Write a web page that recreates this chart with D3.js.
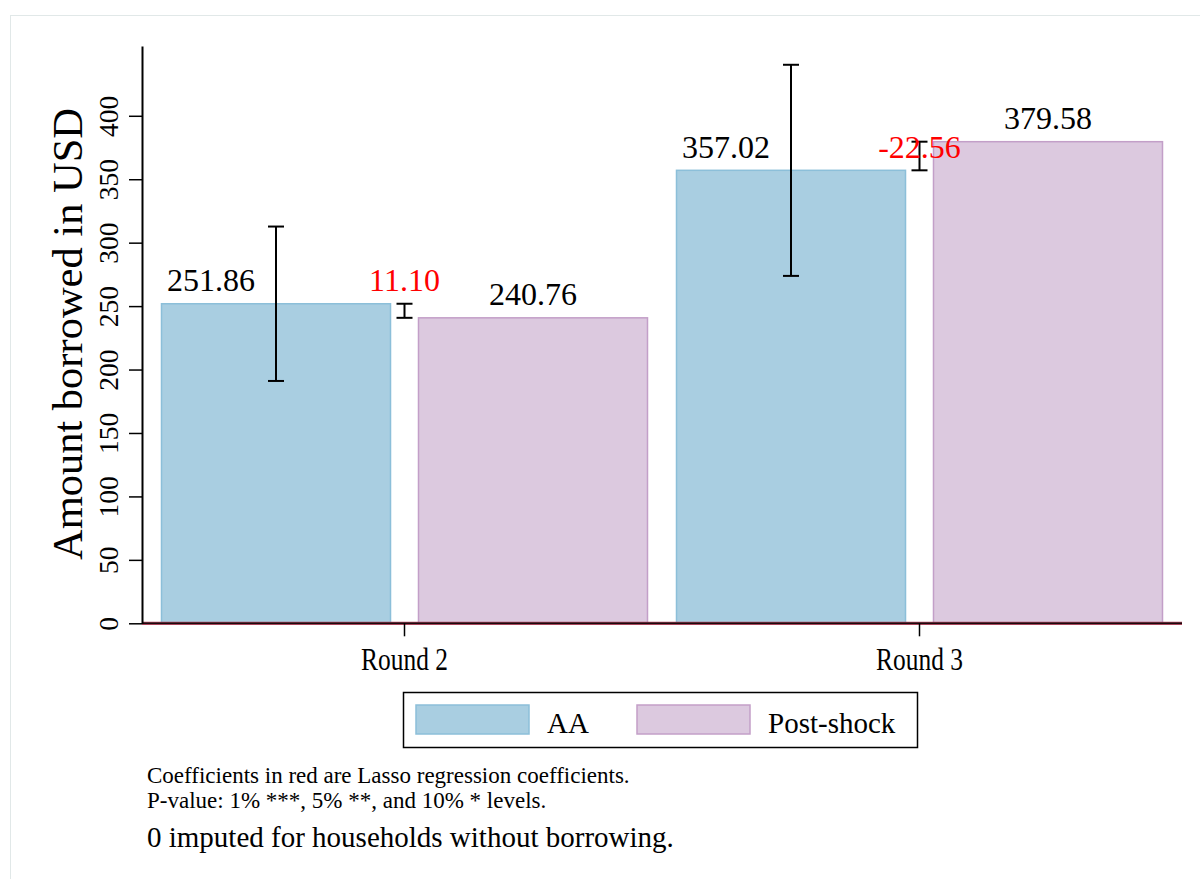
<!DOCTYPE html>
<html>
<head>
<meta charset="utf-8">
<script src="https://cdn.jsdelivr.net/npm/d3@7"></script>
<style>
  html, body { margin: 0; padding: 0; background: #ffffff; }
  svg { display: block; font-family: "Liberation Serif", "Times New Roman", serif; }
</style>
</head>
<body>
<svg id="chart" width="1200" height="879"></svg>
<script>
// Rounds shown on the x axis
const rounds = ["Round 2", "Round 3"];
// Series (legend order)
const seriesNames = ["AA", "Post-shock"];
// Mean amount borrowed (USD)
const aaValues = [251.86, 357.02];
const postValues = [240.76, 379.58];
// 95% CI for AA means
const aaLow = [191.0, 273.8];
const aaHigh = [312.7, 440.2];
// Lasso coefficients (difference AA - Post-shock)
const coefLabels = ["11.10", "-22.56"];
// Y axis ticks
const yTicks = [0, 50, 100, 150, 200, 250, 300, 350, 400];
// Notes below the chart
const noteSmall = ["Coefficients in red are Lasso regression coefficients.",
                   "P-value: 1% ***, 5% **, and 10% * levels."];
const noteLarge = "0 imputed for households without borrowing.";

const colors = {
  "AA": { fill: "#a9cee1", stroke: "#8cbfd9" },
  "Post-shock": { fill: "#dcc9df", stroke: "#c39fc8" }
};

const svg = d3.select("#chart");

// outer frame
svg.append("rect")
  .attr("x", 10.5).attr("y", 15.5)
  .attr("width", 1250).attr("height", 900)
  .attr("fill", "none").attr("stroke", "#e1e8e8").attr("stroke-width", 1);

const axisX = 142;
const plotRight = 1182;
const y = d3.scaleLinear().domain([0, 455]).range([623.3, 46]);

const x0 = d3.scaleBand().domain(rounds).range([147, 1177]).padding(0);
const x1 = d3.scaleBand().domain(seriesNames).range([14, x0.bandwidth() - 14])
  .paddingInner(0.105).paddingOuter(0);

const rows = rounds.map((r, i) => ({
  round: r,
  aa: aaValues[i], post: postValues[i],
  lo: aaLow[i], hi: aaHigh[i],
  coef: coefLabels[i]
}));

// bars
const groups = svg.append("g").selectAll("g.grp").data(rows).join("g")
  .attr("class", "grp")
  .attr("transform", d => `translate(${x0(d.round)},0)`);

groups.selectAll("rect")
  .data(d => [{ key: "AA", v: d.aa }, { key: "Post-shock", v: d.post }])
  .join("rect")
  .attr("x", d => x1(d.key) + 0.5)
  .attr("y", d => y(d.v))
  .attr("width", x1.bandwidth() - 1)
  .attr("height", d => y(0) - y(d.v))
  .attr("fill", d => colors[d.key].fill)
  .attr("stroke", d => colors[d.key].stroke)
  .attr("stroke-width", 1.5);

// x-axis baseline (zero line)
svg.append("line")
  .attr("x1", axisX).attr("x2", plotRight)
  .attr("y1", y(0)).attr("y2", y(0))
  .attr("stroke", "#a8445a").attr("stroke-width", 3.2);
svg.append("line")
  .attr("x1", axisX).attr("x2", plotRight)
  .attr("y1", y(0)).attr("y2", y(0))
  .attr("stroke", "#1a0a0e").attr("stroke-width", 1.4);

// error bars
function errorBar(g, cx, v1, v2, half) {
  g.append("line").attr("x1", cx).attr("x2", cx)
    .attr("y1", y(v1)).attr("y2", y(v2))
    .attr("stroke", "#000").attr("stroke-width", 2);
  [v1, v2].forEach(v => g.append("line")
    .attr("x1", cx - half).attr("x2", cx + half)
    .attr("y1", y(v)).attr("y2", y(v))
    .attr("stroke", "#000").attr("stroke-width", 2));
}
const ebG = svg.append("g");
rows.forEach(d => {
  const gx = x0(d.round);
  errorBar(ebG, gx + x1("AA") + x1.bandwidth() / 2, d.lo, d.hi, 8);
  errorBar(ebG, gx + x0.bandwidth() / 2, d.post, d.aa, 8);
});

// value labels
const labG = svg.append("g").attr("font-size", 32);
rows.forEach(d => {
  const gx = x0(d.round);
  labG.append("text")
    .attr("x", gx + x1("AA") + x1.bandwidth() / 2 - 65)
    .attr("y", y(d.aa) - 12.5)
    .attr("text-anchor", "middle").attr("fill", "#000")
    .text(d.aa.toFixed(2));
  labG.append("text")
    .attr("x", gx + x1("Post-shock") + x1.bandwidth() / 2)
    .attr("y", y(d.post) - 13)
    .attr("text-anchor", "middle").attr("fill", "#000")
    .text(d.post.toFixed(2));
  labG.append("text")
    .attr("x", gx + x0.bandwidth() / 2)
    .attr("y", y(d.aa) - 12.5)
    .attr("text-anchor", "middle").attr("fill", "#ff0000")
    .text(d.coef);
});

// y axis
const yAxis = d3.axisLeft(y).tickValues(yTicks).tickSize(13).tickSizeOuter(0)
  .tickFormat(d3.format("d"));
const yg = svg.append("g").attr("transform", `translate(${axisX},0)`).call(yAxis);
yg.select(".domain").attr("stroke", "#000").attr("stroke-width", 2);
yg.selectAll(".tick line").attr("stroke", "#000").attr("stroke-width", 1.5);
yg.selectAll(".tick text")
  .attr("x", null).attr("dy", null)
  .attr("text-anchor", "middle")
  .attr("transform", "translate(-24,0) rotate(-90)")
  .attr("font-size", 27.5)
  .attr("font-family", "Liberation Serif, serif")
  .attr("fill", "#000");

// y axis title
svg.append("text")
  .attr("transform", `translate(82,334) rotate(-90)`)
  .attr("text-anchor", "middle")
  .attr("font-size", 42.5)
  .attr("fill", "#000")
  .text("Amount borrowed in USD");

// x axis ticks and labels (narrow set type)
const xAxis = d3.axisBottom(x0).tickSize(13).tickSizeOuter(0);
const xg = svg.append("g").attr("transform", `translate(0,${y(0)})`).call(xAxis);
xg.select(".domain").remove();
xg.selectAll(".tick line").attr("stroke", "#000").attr("stroke-width", 1.5);
xg.selectAll(".tick text")
  .attr("y", null).attr("dy", null)
  .attr("transform", "translate(0,47) scale(0.82,1)")
  .attr("font-size", 31)
  .attr("font-family", "Liberation Serif, serif")
  .attr("fill", "#000");

// legend
const leg = svg.append("g");
leg.append("rect")
  .attr("x", 403.5).attr("y", 692.5).attr("width", 514).attr("height", 55)
  .attr("fill", "#fff").attr("stroke", "#000").attr("stroke-width", 1.5);
const legItems = [
  { key: "AA", sx: 416, tx: 547 },
  { key: "Post-shock", sx: 637, tx: 768 }
];
legItems.forEach(it => {
  leg.append("rect")
    .attr("x", it.sx).attr("y", 705).attr("width", 113).attr("height", 29)
    .attr("fill", colors[it.key].fill).attr("stroke", colors[it.key].stroke)
    .attr("stroke-width", 1.5);
  leg.append("text")
    .attr("x", it.tx).attr("y", 733)
    .attr("font-size", 29).attr("fill", "#000")
    .text(it.key);
});

// notes
svg.append("g").selectAll("text").data(noteSmall).join("text")
  .attr("x", 147).attr("y", (d, i) => 783 + i * 25)
  .attr("font-size", 23).attr("fill", "#000")
  .text(d => d);
svg.append("text")
  .attr("x", 147).attr("y", 847)
  .attr("font-size", 29).attr("fill", "#000")
  .text(noteLarge);
</script>
</body>
</html>
